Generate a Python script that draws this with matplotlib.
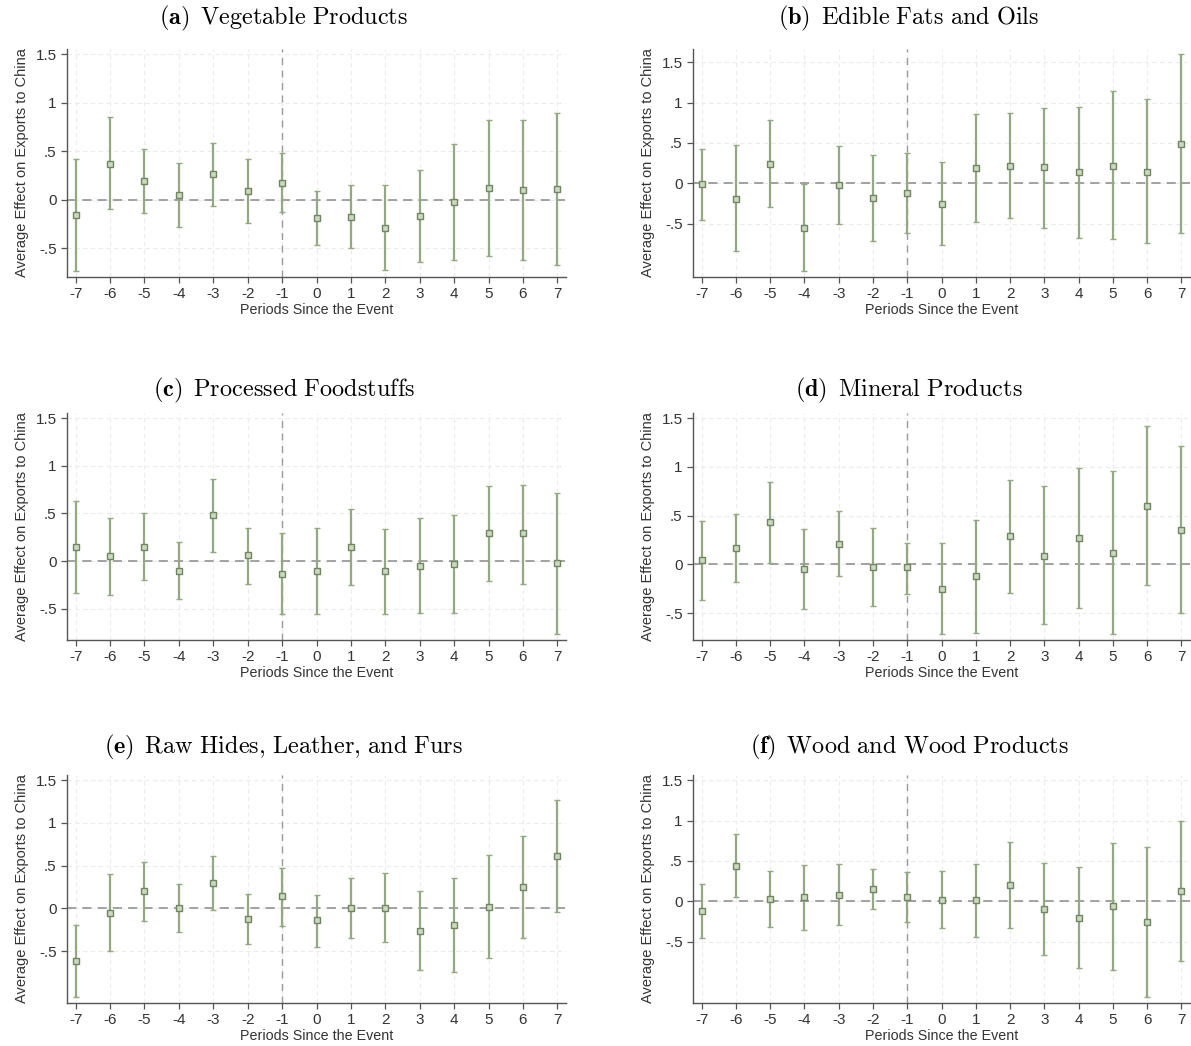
import matplotlib.pyplot as plt
import numpy as np

plt.rcParams['font.family'] = ['Liberation Sans', 'DejaVu Sans']
plt.rcParams['mathtext.fontset'] = 'cm'

periods = np.arange(-7, 8)

titles = [
    r'$\mathbf{(a)}\ \,\mathrm{Vegetable\ Products}$',
    r'$\mathbf{(b)}\ \,\mathrm{Edible\ Fats\ and\ Oils}$',
    r'$\mathbf{(c)}\ \,\mathrm{Processed\ Foodstuffs}$',
    r'$\mathbf{(d)}\ \,\mathrm{Mineral\ Products}$',
    r'$\mathbf{(e)}\ \,\mathrm{Raw\ Hides{,}\ Leather{,}\ and\ Furs}$',
    r'$\mathbf{(f)}\ \,\mathrm{Wood\ and\ Wood\ Products}$',
]

# point estimates, lower and upper bounds of the confidence intervals
est_a = [-0.16, 0.37, 0.19, 0.05, 0.26, 0.09, 0.17, -0.19, -0.18, -0.29, -0.17, -0.02, 0.12, 0.10, 0.11]
lo_a = [-0.73, -0.10, -0.14, -0.28, -0.07, -0.24, -0.13, -0.47, -0.50, -0.72, -0.64, -0.62, -0.58, -0.62, -0.67]
hi_a = [0.42, 0.85, 0.52, 0.38, 0.58, 0.42, 0.48, 0.09, 0.15, 0.15, 0.31, 0.57, 0.82, 0.82, 0.89]

est_b = [-0.01, -0.19, 0.24, -0.55, -0.02, -0.18, -0.12, -0.25, 0.19, 0.22, 0.20, 0.14, 0.22, 0.14, 0.49]
lo_b = [-0.45, -0.84, -0.29, -1.08, -0.50, -0.71, -0.61, -0.77, -0.48, -0.43, -0.55, -0.68, -0.69, -0.74, -0.61]
hi_b = [0.43, 0.48, 0.79, -0.01, 0.46, 0.35, 0.38, 0.27, 0.86, 0.87, 0.93, 0.95, 1.14, 1.04, 1.60]

est_c = [0.15, 0.05, 0.15, -0.10, 0.48, 0.06, -0.13, -0.10, 0.15, -0.10, -0.05, -0.03, 0.29, 0.29, -0.02]
lo_c = [-0.33, -0.36, -0.20, -0.40, 0.10, -0.24, -0.55, -0.55, -0.25, -0.55, -0.54, -0.54, -0.21, -0.24, -0.76]
hi_c = [0.63, 0.45, 0.50, 0.20, 0.86, 0.35, 0.29, 0.35, 0.55, 0.34, 0.45, 0.48, 0.79, 0.80, 0.72]

est_d = [0.04, 0.17, 0.43, -0.05, 0.21, -0.03, -0.03, -0.25, -0.12, 0.29, 0.09, 0.27, 0.12, 0.60, 0.35]
lo_d = [-0.37, -0.18, 0.01, -0.46, -0.12, -0.43, -0.30, -0.71, -0.70, -0.29, -0.61, -0.45, -0.71, -0.21, -0.50]
hi_d = [0.44, 0.52, 0.85, 0.36, 0.55, 0.37, 0.22, 0.22, 0.46, 0.87, 0.80, 0.99, 0.96, 1.42, 1.21]

est_e = [-0.61, -0.05, 0.20, 0.00, 0.30, -0.12, 0.14, -0.14, 0.01, 0.01, -0.26, -0.19, 0.02, 0.25, 0.61]
lo_e = [-1.03, -0.50, -0.15, -0.28, -0.02, -0.42, -0.20, -0.45, -0.34, -0.39, -0.72, -0.74, -0.58, -0.35, -0.04]
hi_e = [-0.19, 0.40, 0.54, 0.29, 0.61, 0.17, 0.47, 0.16, 0.36, 0.41, 0.20, 0.36, 0.62, 0.85, 1.27]

est_f = [-0.12, 0.44, 0.03, 0.05, 0.08, 0.15, 0.05, 0.02, 0.01, 0.20, -0.10, -0.21, -0.06, -0.26, 0.13]
lo_f = [-0.46, 0.05, -0.32, -0.35, -0.30, -0.09, -0.26, -0.33, -0.44, -0.33, -0.66, -0.83, -0.85, -1.18, -0.74]
hi_f = [0.22, 0.83, 0.38, 0.45, 0.46, 0.40, 0.36, 0.37, 0.46, 0.74, 0.47, 0.43, 0.72, 0.67, 1.00]

panels = [
    (est_a, lo_a, hi_a),
    (est_b, lo_b, hi_b),
    (est_c, lo_c, hi_c),
    (est_d, lo_d, hi_d),
    (est_e, lo_e, hi_e),
    (est_f, lo_f, hi_f),
]

y_ticks = [-0.5, 0, 0.5, 1, 1.5]
y_ticklabels = ['-.5', '0', '.5', '1', '1.5']

W, H = 1191, 1046
fig = plt.figure(figsize=(W / 100, H / 100), dpi=100)

# axes boxes in pixels
col_x = [(67, 566), (693, 1190)]
row_y = [(49, 277), (413, 640), (775, 1003)]
title_x = [284, 909]
title_y = [18, 390, 747]

bar_color = '#93a883'
edge_color = '#6f8660'
axis_color = '#555555'

for i, (est, lo, hi) in enumerate(panels):
    r, c = divmod(i, 2)
    x0, x1 = col_x[c]
    y0, y1 = row_y[r]
    ax = fig.add_axes([x0 / W, 1 - y1 / H, (x1 - x0) / W, (y1 - y0) / H])

    est = np.array(est)
    lo = np.array(lo)
    hi = np.array(hi)

    ax.axhline(0, color='#8a8a8a', linestyle=(0, (6, 4)), linewidth=1.1, zorder=1)
    ax.axvline(-1, color='#9a9a9a', linestyle=(0, (5, 4)), linewidth=1.0, zorder=1)

    ax.errorbar(periods, est, yerr=[est - lo, hi - est], fmt='none',
                ecolor=bar_color, elinewidth=1.6, capsize=2.5, capthick=1.0, zorder=2)
    ax.plot(periods, est, linestyle='none', marker='s', markersize=4.2,
            markerfacecolor='#cdd8c2', markeredgecolor=edge_color,
            markeredgewidth=1.0, zorder=3)

    top = max(1.5, hi.max())
    bot = min(-0.5, lo.min())
    pad = 0.03 * (top - bot)
    ax.set_ylim(bot - pad, top + pad * 0.8)
    ax.set_xlim(-7.25, 7.25)

    ax.set_xticks(periods)
    ax.set_xticklabels([str(p) for p in periods])
    ax.set_yticks(y_ticks)
    ax.set_yticklabels(y_ticklabels)

    ax.grid(True, color='#ececec', linestyle=(0, (4, 3)), linewidth=0.8, zorder=0)
    ax.set_axisbelow(True)

    for side in ['top', 'right']:
        ax.spines[side].set_visible(False)
    for side in ['left', 'bottom']:
        ax.spines[side].set_color(axis_color)
        ax.spines[side].set_linewidth(1.0)
    ax.tick_params(axis='both', colors=axis_color, labelcolor='#333333',
                   labelsize=11, length=4, width=0.9, direction='out')

    ax.set_xlabel('Periods Since the Event', fontsize=10.3, color='#333333', labelpad=1)
    ax.set_ylabel('Average Effect on Exports to China', fontsize=10.5, color='#333333', labelpad=5)

    fig.text(title_x[c] / W, 1 - title_y[r] / H, titles[i], ha='center', va='center', fontsize=17.5)

fig.savefig('out.png', dpi=100)
